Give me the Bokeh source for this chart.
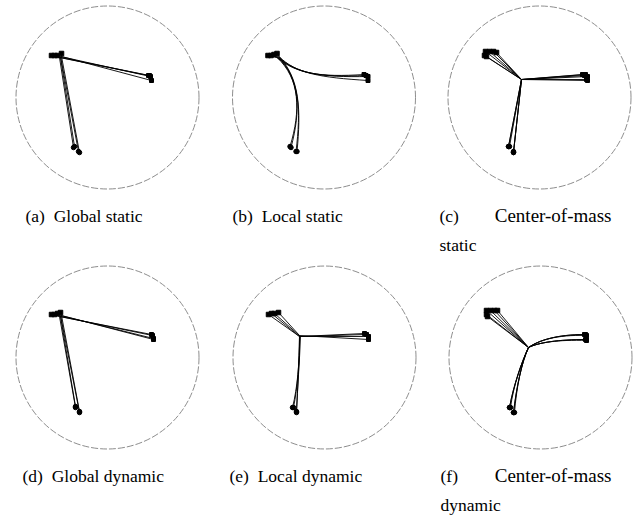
from bokeh.plotting import figure
from bokeh.layouts import gridplot
from bokeh.models import Range1d, ColumnDataSource
from bokeh.embed import file_html
from bokeh.resources import INLINE
from bokeh.core.properties import value

# Workspace: a disc of radius 91.5 centred on the origin, y pointing up.
WORKSPACE_RADIUS = 91.5

# ---- (a) Global static ------------------------------------------------------
gs_hub = [(-48, 40), (-47, 40), (-47, 41), (-46, 41)]
gs_tip_a = [(-56, 42), (-53, 42), (-50, 42), (-46, 44)]
gs_tip_b = [(41, 22), (42, 22), (43, 21), (44, 17)]
gs_tip_c = [(-34, -50), (-33, -49), (-29, -54), (-28, -55)]

# ---- (b) Local static -------------------------------------------------------
ls_hub = [(-47, 40), (-46, 40), (-46, 41), (-45, 41)]
ls_tip_a = [(-56, 42), (-53, 42), (-50, 43), (-47, 44)]
ls_tip_b = [(40, 23), (42, 22), (44, 21), (44, 17)]
ls_tip_c = [(-34, -49), (-33, -50), (-28, -54), (-27, -54)]
ls_ctrl_b = [(-28, 24, -4, 20)] * 4
ls_ctrl_c = [(-24, 19, -23, -13)] * 4

# ---- (c) Center-of-mass static ----------------------------------------------
cs_hub = [(-18, 18)] * 6
cs_tip_a = [(-54, 46), (-50, 46), (-46, 46), (-43, 45), (-55, 42), (-53, 41)]
cs_tip_b = [(43, 23), (46, 23), (48, 21), (48, 17), (47, 18), (45, 22)]
cs_tip_c = [(-31, -49), (-31, -49), (-30, -49), (-26, -55), (-26, -54), (-26, -55)]

# ---- (d) Global dynamic -----------------------------------------------------
gd_hub = [(-48, 41), (-47, 41), (-47, 42), (-46, 42)]
gd_tip_a = [(-56, 43), (-53, 43), (-50, 44), (-47, 45)]
gd_tip_b = [(44, 23), (45, 22), (46, 19), (46, 18)]
gd_tip_c = [(-32, -50), (-32, -49), (-28, -55), (-28, -54)]

# ---- (e) Local dynamic ------------------------------------------------------
ld_hub = [(-25, 21), (-25, 21), (-24, 21), (-25, 22)]
ld_tip_a = [(-56, 43), (-53, 44), (-50, 44), (-46, 45)]
ld_tip_b = [(40, 24), (42, 23), (44, 21), (44, 18)]
ld_tip_c = [(-32, -50), (-31, -50), (-28, -55), (-28, -54)]
ld_ctrl_c = [(-25, -5, -27, -30)] * 4

# ---- (f) Center-of-mass dynamic ---------------------------------------------
cd_hub = [(-12, 10)] * 6
cd_tip_a = [(-54, 47), (-50, 47), (-46, 47), (-43, 47), (-54, 43), (-53, 41)]
cd_tip_b = [(44, 23), (45, 23), (46, 22), (46, 18), (46, 17), (45, 18)]
cd_ctrl_b = [(-2, 17, 16, 23)] * 3 + [(-2, 15, 18, 18)] * 3
cd_tip_c = [(-31, -50), (-31, -50), (-30, -50), (-27, -55), (-27, -55), (-26, -55)]
cd_ctrl_c = [(-19, -5, -27, -28)] * 3 + [(-19, -5, -24, -30)] * 3

captions = {
    "a": ["(a)\u00a0 Global static"],
    "b": ["(b)\u00a0 Local static"],
    "c": ["(c)", "Center-of-mass", "static"],
    "d": ["(d)\u00a0 Global dynamic"],
    "e": ["(e)\u00a0 Local dynamic"],
    "f": ["(f)", "Center-of-mass", "dynamic"],
}

PANEL_W, PANEL_H = 211, 260
SERIF = value("Liberation Serif")
CAPTION_SIZE = "17.5px"
WIDE_WORD_SIZE = "19px"


def limb_source(hubs, tips, ctrls=None):
    """Cubic Bezier segments from each hub to its tip; straight when no controls."""
    d = dict(x0=[], y0=[], x1=[], y1=[], cx0=[], cy0=[], cx1=[], cy1=[])
    for i, ((hx, hy), (tx, ty)) in enumerate(zip(hubs, tips)):
        if ctrls is None:
            c = (hx + (tx - hx) / 3, hy + (ty - hy) / 3,
                 hx + 2 * (tx - hx) / 3, hy + 2 * (ty - hy) / 3)
        else:
            c = ctrls[i]
        d["x0"].append(hx); d["y0"].append(hy)
        d["x1"].append(tx); d["y1"].append(ty)
        d["cx0"].append(c[0]); d["cy0"].append(c[1])
        d["cx1"].append(c[2]); d["cy1"].append(c[3])
    return ColumnDataSource(d)


def panel(cx, cy, hubs, tip_a, tip_b, tip_c, ctrl_b=None, ctrl_c=None):
    # cx, cy: where the disc centre sits inside the 211 x 260 cell (pixels)
    p = figure(width=PANEL_W, height=PANEL_H, output_backend="svg",
               toolbar_location=None, min_border=0,
               x_range=Range1d(-cx, PANEL_W - cx),
               y_range=Range1d(cy - PANEL_H, cy))
    p.axis.visible = False
    p.grid.visible = False
    p.outline_line_color = None
    p.background_fill_color = "white"
    p.border_fill_color = "white"

    p.circle(x=[0], y=[0], radius=WORKSPACE_RADIUS, fill_color=None,
             line_color="#808080", line_width=0.9, line_dash="7 2")

    for tips, ctrls in ((tip_a, None), (tip_b, ctrl_b), (tip_c, ctrl_c)):
        src = limb_source(hubs, tips, ctrls)
        p.bezier(x0="x0", y0="y0", x1="x1", y1="y1", cx0="cx0", cy0="cy0",
                 cx1="cx1", cy1="cy1", source=src, line_color="black",
                 line_width=0.9)

    p.scatter(x=[t[0] for t in tip_a], y=[t[1] for t in tip_a], marker="square",
              size=4.5, color="black")
    p.scatter(x=[t[0] for t in tip_b], y=[t[1] for t in tip_b], marker="square",
              size=4, color="black")
    p.scatter(x=[t[0] for t in tip_c], y=[t[1] for t in tip_c], marker="circle",
              size=4.5, color="black")
    return p


def add_caption(p, cx, cy, left_px, lines, right_px=None):
    base1 = cy - 215
    style = dict(text_font=SERIF, text_baseline="alphabetic", text_color="black")
    if len(lines) == 1:
        p.text(x=[left_px - cx], y=[base1], text=lines,
               text_font_size=CAPTION_SIZE, **style)
    else:
        # justified first line, then the wrapped word
        p.text(x=[left_px - cx], y=[base1], text=[lines[0]],
               text_font_size=CAPTION_SIZE, **style)
        p.text(x=[right_px - cx], y=[base1], text=[lines[1]],
               text_align="right", text_font_size=WIDE_WORD_SIZE, **style)
        p.text(x=[left_px - cx], y=[base1 - 29], text=[lines[2]],
               text_font_size=CAPTION_SIZE, **style)


pa = panel(107, 97, gs_hub, gs_tip_a, gs_tip_b, gs_tip_c)
add_caption(pa, 107, 97, 25, captions["a"])
pb = panel(112.5, 97, ls_hub, ls_tip_a, ls_tip_b, ls_tip_c, ls_ctrl_b, ls_ctrl_c)
add_caption(pb, 112.5, 97, 21, captions["b"])
pc = panel(117, 97, cs_hub, cs_tip_a, cs_tip_b, cs_tip_c)
add_caption(pc, 117, 97, 17, captions["c"], right_px=189)

pd = panel(107, 97, gd_hub, gd_tip_a, gd_tip_b, gd_tip_c)
add_caption(pd, 107, 97, 22, captions["d"])
pe = panel(113, 97, ld_hub, ld_tip_a, ld_tip_b, ld_tip_c, None, ld_ctrl_c)
add_caption(pe, 113, 97, 18, captions["e"])
pf = panel(118, 97, cd_hub, cd_tip_a, cd_tip_b, cd_tip_c, cd_ctrl_b, cd_ctrl_c)
add_caption(pf, 118, 97, 18, captions["f"], right_px=189)

grid = gridplot([[pa, pb, pc], [pd, pe, pf]], toolbar_location=None)

open("out.html", "w").write(file_html(grid, INLINE))
